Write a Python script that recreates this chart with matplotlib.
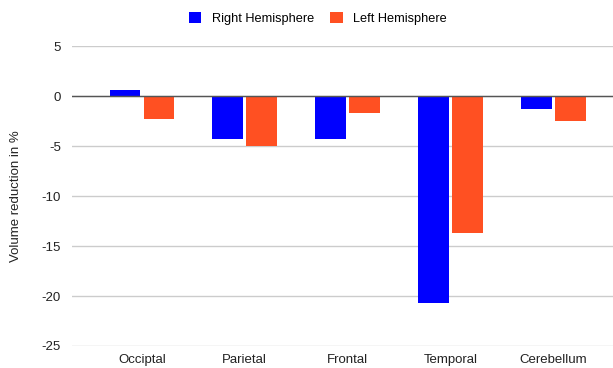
import matplotlib
matplotlib.use("Agg")
import matplotlib.pyplot as plt
import numpy as np

categories = ["Occiptal", "Parietal", "Frontal", "Temporal", "Cerebellum"]
right_hemisphere = [0.65, -4.3, -4.3, -20.7, -1.3]
left_hemisphere = [-2.3, -5.0, -1.7, -13.7, -2.5]
yticks = [5, 0, -5, -10, -15, -20, -25]

plt.rcParams['font.family'] = ['Liberation Sans', 'DejaVu Sans']

fig = plt.figure(figsize=(6.13, 3.68), dpi=100)
ax = fig.add_axes([0.1175, 0.0598, 0.8825, 0.815])

x = np.arange(len(categories))
w = 0.30
gap = 0.015
ax.bar(x - w/2 - gap, right_hemisphere, width=w, color='#0000ff', label='Right Hemisphere', zorder=3)
ax.bar(x + w/2 + gap, left_hemisphere, width=w, color='#ff5022', label='Left Hemisphere', zorder=3)

ax.set_ylim(-25, 5)
ax.set_xlim(-0.68, 4.58)
ax.set_yticks(yticks)
ax.set_yticklabels([str(v) for v in yticks])
ax.set_xticks(x)
ax.set_xticklabels(categories)
ax.tick_params(axis='both', length=0, labelsize=9.5, colors='#222222')
ax.tick_params(axis='y', pad=8)
ax.tick_params(axis='x', pad=6)
for s in ax.spines.values():
    s.set_visible(False)
ax.grid(axis='y', color='#cccccc', linewidth=1, zorder=0)
ax.axhline(0, color='#555555', linewidth=1, zorder=4)
ax.set_ylabel("Volume reduction in %", fontsize=9.5, color='#222222', labelpad=14)

fig.legend(loc='upper center', bbox_to_anchor=(0.518, 1.0), ncol=2, frameon=False,
           fontsize=9.2, handlelength=1.0, handleheight=1.0, columnspacing=1.25, handletextpad=0.8)

fig.savefig("out.png", dpi=100)
